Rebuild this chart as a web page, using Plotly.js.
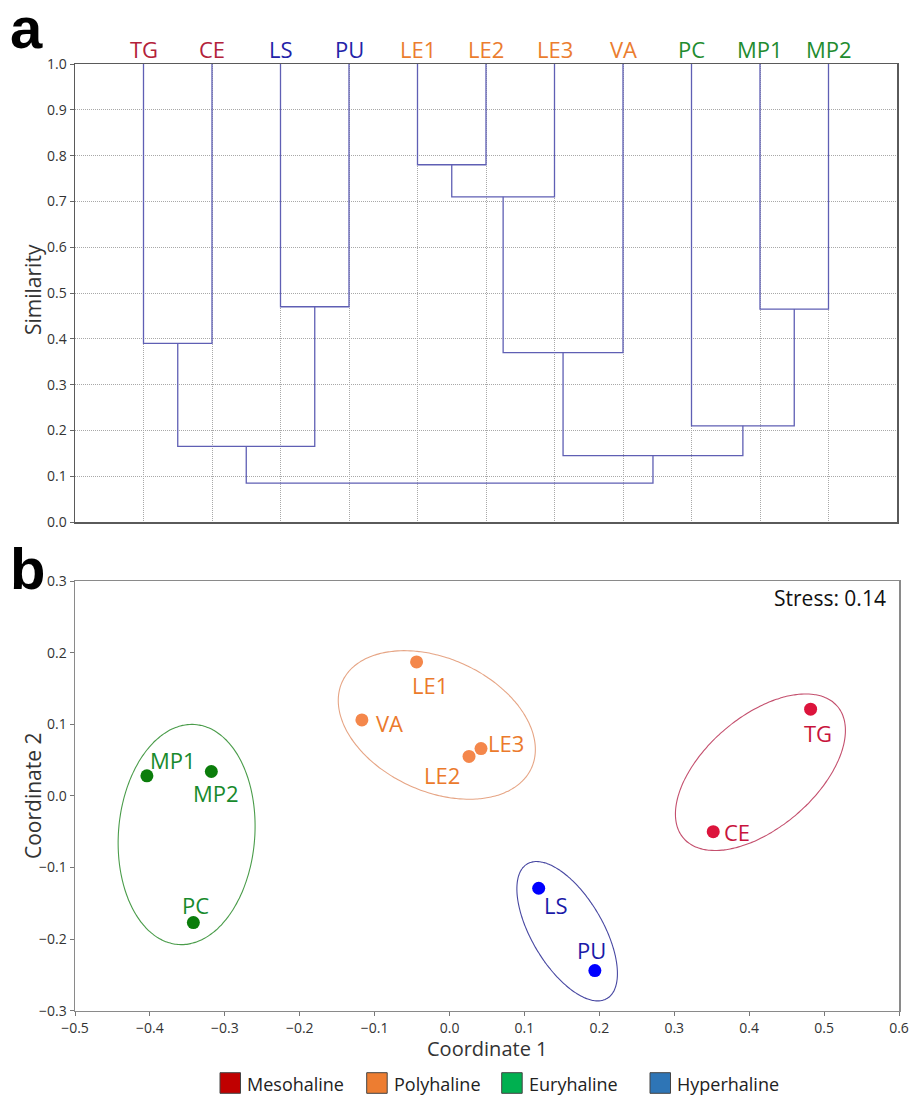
<!DOCTYPE html>
<html><head><meta charset="utf-8">
<script src="https://cdn.plot.ly/plotly-3.0.1.min.js"></script>
<style>html,body{margin:0;padding:0;background:#fff;} #chart{width:911px;height:1095px;}</style>
</head><body><div id="chart"></div>
<script>
// ---------- DATA ----------
// Dendrogram (panel a)
const leafNames = ['TG','CE','LS','PU','LE1','LE2','LE3','VA','PC','MP1','MP2'];
const leafGroup = ['Mesohaline','Mesohaline','Hyperhaline','Hyperhaline','Polyhaline','Polyhaline','Polyhaline','Polyhaline','Euryhaline','Euryhaline','Euryhaline'];
// merges: node index 0..10 = leaves, merge k creates node 11+k
const mergeLeft  = [0, 2, 4, 13, 14, 9, 8, 11, 15, 18];
const mergeRight = [1, 3, 5, 6, 7, 10, 16, 12, 17, 19];
const mergeSimilarity = [0.39, 0.47, 0.78, 0.71, 0.37, 0.465, 0.21, 0.165, 0.145, 0.085];
const simTicks = [0.0,0.1,0.2,0.3,0.4,0.5,0.6,0.7,0.8,0.9,1.0];

// nMDS (panel b)
const sampleNames = ['TG','CE','LS','PU','LE1','LE2','LE3','VA','PC','MP1','MP2'];
const sampleGroup = ['Mesohaline','Mesohaline','Hyperhaline','Hyperhaline','Polyhaline','Polyhaline','Polyhaline','Polyhaline','Euryhaline','Euryhaline','Euryhaline'];
const coord1 = [0.482, 0.352, 0.119, 0.194, -0.044, 0.026, 0.042, -0.117, -0.342, -0.404, -0.318];
const coord2 = [0.121, -0.050, -0.129, -0.244, 0.187, 0.055, 0.066, 0.106, -0.177, 0.028, 0.034];
const stressValue = 0.14;

// Group ellipses (data units)
const groups = ['Mesohaline','Polyhaline','Euryhaline','Hyperhaline'];
const ellipseCx = [0.415, -0.017, -0.351, 0.157];
const ellipseCy = [0.033, 0.099, -0.054, -0.189];
const ellipseA  = [0.138, 0.140, 0.154, 0.108];
const ellipseB  = [0.076, 0.092, 0.091, 0.048];
const ellipseAngleDeg = [43, -27, 86, -61];

// ---------- STYLES ----------
const W = 911, H = 1095;
const FONT = '"Open Sans", "Noto Sans", sans-serif';
const leafLabelColor = {Mesohaline:'#b3213a', Hyperhaline:'#2323a8', Polyhaline:'#eb7d2f', Euryhaline:'#1f8c30'};
const pointColor = {Mesohaline:'#dc143c', Hyperhaline:'#0000ff', Polyhaline:'#f4874b', Euryhaline:'#0b7d0b'};
const labelColor = {Mesohaline:'#c8143c', Hyperhaline:'#1a1aa8', Polyhaline:'#eb7a2c', Euryhaline:'#178a2c'};
const ellipseColor = {Mesohaline:'#c4506e', Hyperhaline:'#4848a2', Polyhaline:'#e6a585', Euryhaline:'#4a9c4a'};
const legendColor = {Mesohaline:'#c00000', Polyhaline:'#ed7d31', Euryhaline:'#00b050', Hyperhaline:'#2e75b6'};
const legendSquareX = [220, 366.7, 501.7, 650];
// label offsets in px (dx right, dy down) relative to point
const labelDx = [7.6, 23.7, 17.7, -3, 13.3, -27, 25, 27.7, 2.2, 26.3, 4.2];
const labelDy = [24, 0.6, 16.7, -20.7, 23.3, 18.3, -5.7, 3.3, -18, -15.7, 21.6];

const px2x = p => p / W;
const px2y = p => 1 - p / H;

// panel geometry (px)
const A = {l:75, r:897, t:64, b:522};
const B = {l:75, r:899, t:581, b:1010.7};

// ---------- BUILD DENDROGRAM ----------
const nodeX = leafNames.map((_, i) => i + 1);
const nodeH = leafNames.map(() => 1.0);
const dX = [], dY = [];
mergeLeft.forEach((l, k) => {
  const r = mergeRight[k], h = mergeSimilarity[k];
  dX.push(nodeX[l], nodeX[l], nodeX[r], nodeX[r], null);
  dY.push(nodeH[l], h, h, nodeH[r], null);
  nodeX.push((nodeX[l] + nodeX[r]) / 2);
  nodeH.push(h);
});

const traces = [];
traces.push({
  x: dX, y: dY, type: 'scatter', mode: 'lines', xaxis: 'x', yaxis: 'y',
  line: {color: '#5f5fb4', width: 1.3}, hoverinfo: 'skip', showlegend: false
});

// ---------- ELLIPSES ----------
groups.forEach((g, gi) => {
  const ex = [], ey = [];
  const phi = ellipseAngleDeg[gi] * Math.PI / 180;
  for (let s = 0; s <= 180; s++) {
    const t = s / 180 * 2 * Math.PI;
    const u = ellipseA[gi] * Math.cos(t), v = ellipseB[gi] * Math.sin(t);
    ex.push(ellipseCx[gi] + u * Math.cos(phi) - v * Math.sin(phi));
    ey.push(ellipseCy[gi] + u * Math.sin(phi) + v * Math.cos(phi));
  }
  traces.push({
    x: ex, y: ey, type: 'scatter', mode: 'lines', xaxis: 'x2', yaxis: 'y2',
    line: {color: ellipseColor[g], width: 1.1, shape: 'spline'}, hoverinfo: 'skip', showlegend: false
  });
});

// ---------- POINTS ----------
groups.forEach(g => {
  const idx = sampleGroup.map((s, i) => s === g ? i : -1).filter(i => i >= 0);
  traces.push({
    x: idx.map(i => coord1[i]), y: idx.map(i => coord2[i]),
    text: idx.map(i => sampleNames[i]),
    type: 'scatter', mode: 'markers', xaxis: 'x2', yaxis: 'y2',
    marker: {color: pointColor[g], size: 13, line: {width: 0}},
    showlegend: false, name: g
  });
});

// ---------- ANNOTATIONS ----------
const annotations = [];
// leaf labels
leafNames.forEach((n, i) => {
  annotations.push({
    x: i + 1, y: 1.0, xref: 'x', yref: 'y', text: n, showarrow: false,
    xanchor: 'center', yanchor: 'middle', yshift: 15,
    font: {family: FONT, size: 22, color: leafLabelColor[leafGroup[i]]}
  });
});
// sample labels
sampleNames.forEach((n, i) => {
  annotations.push({
    x: coord1[i], y: coord2[i], xref: 'x2', yref: 'y2', text: n, showarrow: false,
    xanchor: 'center', yanchor: 'middle', xshift: labelDx[i], yshift: -labelDy[i],
    font: {family: FONT, size: 22, color: labelColor[sampleGroup[i]]}
  });
});
// stress
annotations.push({
  x: px2x(888), y: px2y(598), xref: 'paper', yref: 'paper', text: 'Stress: ' + stressValue.toFixed(2),
  showarrow: false, xanchor: 'right', yanchor: 'middle',
  font: {family: FONT, size: 21, color: '#111'}
});
// axis titles
annotations.push({
  x: px2x(33), y: px2y(290), xref: 'paper', yref: 'paper', text: 'Similarity', textangle: -90,
  showarrow: false, xanchor: 'center', yanchor: 'middle', font: {family: FONT, size: 21, color: '#333'}
});
annotations.push({
  x: px2x(33), y: px2y(796), xref: 'paper', yref: 'paper', text: 'Coordinate 2', textangle: -90,
  showarrow: false, xanchor: 'center', yanchor: 'middle', font: {family: FONT, size: 21, color: '#333'}
});
annotations.push({
  x: px2x(487), y: px2y(1048), xref: 'paper', yref: 'paper', text: 'Coordinate 1',
  showarrow: false, xanchor: 'center', yanchor: 'middle', borderpad: 0,
  font: {family: FONT, size: 20, color: '#333'}
});
// panel letters
annotations.push({
  x: px2x(9), y: px2y(27), xref: 'paper', yref: 'paper', text: '<b>a</b>', showarrow: false,
  xanchor: 'left', yanchor: 'middle', borderpad: 0,
  font: {family: '"Liberation Sans", Arial, sans-serif', size: 58, color: '#000'}
});
annotations.push({
  x: px2x(9), y: px2y(568), xref: 'paper', yref: 'paper', text: '<b>b</b>', showarrow: false,
  xanchor: 'left', yanchor: 'middle', borderpad: 0,
  font: {family: '"Liberation Sans", Arial, sans-serif', size: 58, color: '#000'}
});

// ---------- LEGEND (shapes + text) ----------
const shapes = [];
groups.forEach((g, gi) => {
  const x0 = legendSquareX[gi];
  shapes.push({
    type: 'rect', xref: 'paper', yref: 'paper',
    x0: px2x(x0), x1: px2x(x0 + 20.5), y0: px2y(1093.3), y1: px2y(1072.7),
    fillcolor: legendColor[g], line: {color: '#444', width: 1}
  });
  annotations.push({
    x: px2x(x0 + 25), y: px2y(1083.5), xref: 'paper', yref: 'paper', text: g, showarrow: false,
    xanchor: 'left', yanchor: 'middle', font: {family: FONT, size: 18, color: '#222'}
  });
});

// ---------- LAYOUT ----------
const layout = {
  width: W, height: H,
  margin: {l: 0, r: 0, t: 0, b: 0},
  paper_bgcolor: '#fff', plot_bgcolor: '#fff',
  showlegend: false,
  font: {family: FONT, color: '#333'},
  xaxis: {
    domain: [px2x(A.l), px2x(A.r)], anchor: 'y', range: [0, leafNames.length + 1],
    tickvals: leafNames.map((_, i) => i + 1), showticklabels: false, ticks: '',
    showgrid: true, gridcolor: '#a8a8a8', griddash: '1px,1px', gridwidth: 1,
    showline: true, mirror: true, linecolor: '#5a5a5a', linewidth: 1.5, zeroline: false, fixedrange: true
  },
  yaxis: {
    domain: [px2y(A.b), px2y(A.t)], anchor: 'x', range: [0, 1],
    tickvals: simTicks, ticktext: simTicks.map(v => v.toFixed(1)),
    ticks: 'outside', ticklen: 4, tickcolor: '#666', tickwidth: 1,
    tickfont: {family: FONT, size: 14, color: '#333'},
    showgrid: true, gridcolor: '#a8a8a8', griddash: '1px,1px', gridwidth: 1,
    showline: true, mirror: true, linecolor: '#5a5a5a', linewidth: 1.5, zeroline: false, fixedrange: true
  },
  xaxis2: {
    domain: [px2x(B.l), px2x(B.r)], anchor: 'y2', range: [-0.5, 0.6],
    dtick: 0.1, tick0: -0.5, tickformat: '.1f',
    ticks: 'outside', ticklen: 4, tickcolor: '#777', tickwidth: 1,
    tickfont: {family: FONT, size: 14, color: '#333'},
    showgrid: false, showline: true, mirror: true, linecolor: '#8a8a8a', linewidth: 1.5, zeroline: false, fixedrange: true
  },
  yaxis2: {
    domain: [px2y(B.b), px2y(B.t)], anchor: 'x2', range: [-0.3, 0.3],
    dtick: 0.1, tick0: -0.3, tickformat: '.1f',
    ticks: 'outside', ticklen: 4, tickcolor: '#777', tickwidth: 1,
    tickfont: {family: FONT, size: 14, color: '#333'},
    showgrid: false, showline: true, mirror: true, linecolor: '#8a8a8a', linewidth: 1.5, zeroline: false, fixedrange: true
  },
  annotations: annotations,
  shapes: shapes
};

Plotly.newPlot('chart', traces, layout, {displayModeBar: false, staticPlot: true});
</script>
</body></html>
